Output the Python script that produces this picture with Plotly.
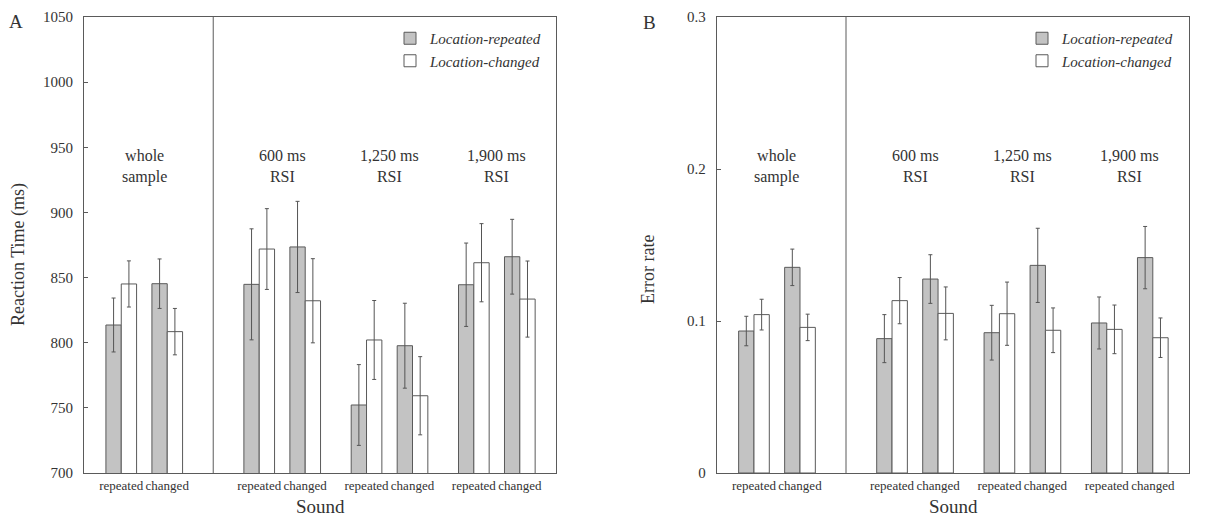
import plotly.graph_objects as go

# ---------------- data ----------------
groups = ["whole<br>sample", "600 ms<br>RSI", "1,250 ms<br>RSI", "1,900 ms<br>RSI"]
sound_labels = ["repeated", "changed"]
series_names = ["Location-repeated", "Location-changed"]

# order: whole-rep, whole-ch, 600-rep, 600-ch, 1250-rep, 1250-ch, 1900-rep, 1900-ch
rt_loc_rep = [813.6, 845.3, 844.8, 873.5, 752.2, 797.7, 844.5, 866.0]
rt_loc_rep_err = [20.7, 19.0, 42.6, 35.0, 31.0, 32.6, 32.0, 28.7]
rt_loc_chg = [845.1, 808.5, 871.9, 832.2, 802.1, 759.3, 861.4, 833.5]
rt_loc_chg_err = [17.7, 17.8, 31.0, 32.3, 30.3, 30.0, 30.0, 29.2]

er_loc_rep = [0.0934, 0.1353, 0.0884, 0.1276, 0.0923, 0.1366, 0.0987, 0.1417]
er_loc_rep_err = [0.0097, 0.0120, 0.0158, 0.0160, 0.0180, 0.0244, 0.0171, 0.0205]
er_loc_chg = [0.1042, 0.0958, 0.1134, 0.1050, 0.1048, 0.0939, 0.0945, 0.0890]
er_loc_chg_err = [0.0101, 0.0087, 0.0152, 0.0174, 0.0208, 0.0147, 0.0160, 0.0130]

rt_ticks = [700, 750, 800, 850, 900, 950, 1000, 1050]
er_ticks = [0, 0.1, 0.2, 0.3]
er_ticktext = ["0", "0.1", "0.2", "0.3"]

# ---------------- layout helpers ----------------
group_starts = [0, 9, 16, 23]   # in bar-width units
pair_gap = 3
positions = []
for g in group_starts:
    positions += [g, g + pair_gap]
group_centers = [g + pair_gap / 2 for g in group_starts]
divider = 6
xrange_ = [-2.43, 28.36]

# page has an 8px body margin; figure fills the rest of the 1226x517 window
OFF = 8
W, H = 1226 - OFF, 517 - OFF
FONT = "Liberation Serif"
TXT = "#333333"
LINE = "#5a5a5a"
GRAY = "#c3c3c3"

def fx(s):
    return (s - OFF) / W

def fy(s):
    return 1 - (s - OFF) / H

fig = go.Figure()

def add_panel(xa, ya, rep, rep_err, chg, chg_err, legend):
    fig.add_trace(go.Bar(
        x=positions, y=rep, offset=-1, width=1,
        marker=dict(color=GRAY, line=dict(color=LINE, width=1)),
        error_y=dict(type="data", array=rep_err, color="#555555", thickness=1, width=2),
        name=series_names[0], legend=legend, xaxis=xa, yaxis=ya,
    ))
    fig.add_trace(go.Bar(
        x=positions, y=chg, offset=0, width=1,
        marker=dict(color="white", line=dict(color=LINE, width=1)),
        error_y=dict(type="data", array=chg_err, color="#555555", thickness=1, width=2),
        name=series_names[1], legend=legend, xaxis=xa, yaxis=ya,
    ))

add_panel("x", "y", rt_loc_rep, rt_loc_rep_err, rt_loc_chg, rt_loc_chg_err, "legend")
add_panel("x2", "y2", er_loc_rep, er_loc_rep_err, er_loc_chg, er_loc_chg_err, "legend2")

tickfont = dict(family=FONT, size=15, color=TXT)
xtickfont = dict(family=FONT, size=13, color=TXT)

xcommon = dict(range=xrange_, tickvals=positions, ticktext=sound_labels * 4,
               ticks="", tickangle=0, showline=True, linecolor=LINE, linewidth=1, mirror=True,
               showgrid=False, zeroline=False, tickfont=xtickfont, fixedrange=True,
               automargin=False)
ycommon = dict(ticks="inside", ticklen=4, tickcolor=LINE, showline=True, linecolor=LINE,
               linewidth=1, mirror=True, showgrid=False, zeroline=False,
               tickfont=tickfont, ticklabelstandoff=7, automargin=False)
yright = dict(ticks="inside", ticklen=4, tickcolor=LINE, showline=False, showgrid=False,
              zeroline=False, tickfont=tickfont, ticklabelstandoff=7, automargin=False)

dom_y = [fy(473), fy(17)]
fig.update_layout(
    width=W, height=H,
    margin=dict(l=0, r=0, t=0, b=0, autoexpand=False),
    paper_bgcolor="white", plot_bgcolor="white",
    barmode="overlay",
    xaxis=dict(domain=[fx(84), fx(556)], anchor="y", **xcommon),
    xaxis2=dict(domain=[fx(716.7), fx(1189)], anchor="y2", **xcommon),
    yaxis=dict(domain=dom_y, anchor="x", range=[700, 1050], tickvals=rt_ticks, **ycommon),
    yaxis2=dict(domain=dom_y, anchor="x2", range=[0, 0.3], tickvals=er_ticks,
                ticktext=er_ticktext, **ycommon),
    yaxis3=dict(overlaying="y", side="right", anchor="x", range=[700, 1050],
                tickvals=rt_ticks, **yright),
    yaxis4=dict(overlaying="y2", side="right", anchor="x2", range=[0, 0.3],
                tickvals=er_ticks, ticktext=er_ticktext, **yright),
    legend=dict(x=fx(390), y=fy(22), xanchor="left", yanchor="top",
                bgcolor="rgba(0,0,0,0)",
                font=dict(family=FONT, size=15, color=TXT, style="italic")),
    legend2=dict(x=fx(1022), y=fy(22), xanchor="left", yanchor="top",
                 bgcolor="rgba(0,0,0,0)",
                 font=dict(family=FONT, size=15, color=TXT, style="italic")),
    showlegend=True,
)

# divider lines
for xr, yr in (("x", "y domain"), ("x2", "y2 domain")):
    fig.add_shape(type="line", xref=xr, yref=yr, x0=divider, x1=divider, y0=0, y1=1,
                  line=dict(color=LINE, width=1))

# group labels
label_y = (473 - 166.5) / 456
for xr, yr in (("x", "y domain"), ("x2", "y2 domain")):
    for gc, gl in zip(group_centers, groups):
        fig.add_annotation(x=gc, y=label_y, xref=xr, yref=yr, text=gl, showarrow=False,
                           xanchor="center", yanchor="middle",
                           font=dict(family=FONT, size=16, color=TXT), align="center")

def txt(x, y, s, size, angle=0):
    fig.add_annotation(x=fx(x), y=fy(y), xref="paper", yref="paper", text=s,
                       textangle=angle, showarrow=False, xanchor="center", yanchor="middle",
                       font=dict(family=FONT, size=size, color=TXT))

# axis titles and panel letters
txt(18, 255, "Reaction Time (ms)", 18, -90)
txt(648, 270, "Error rate", 18, -90)
txt(320, 506, "Sound", 19)
txt(953, 506, "Sound", 19)
txt(16, 22, "A", 19)
txt(649, 23, "B", 19)

fig.write_html("out.html")
